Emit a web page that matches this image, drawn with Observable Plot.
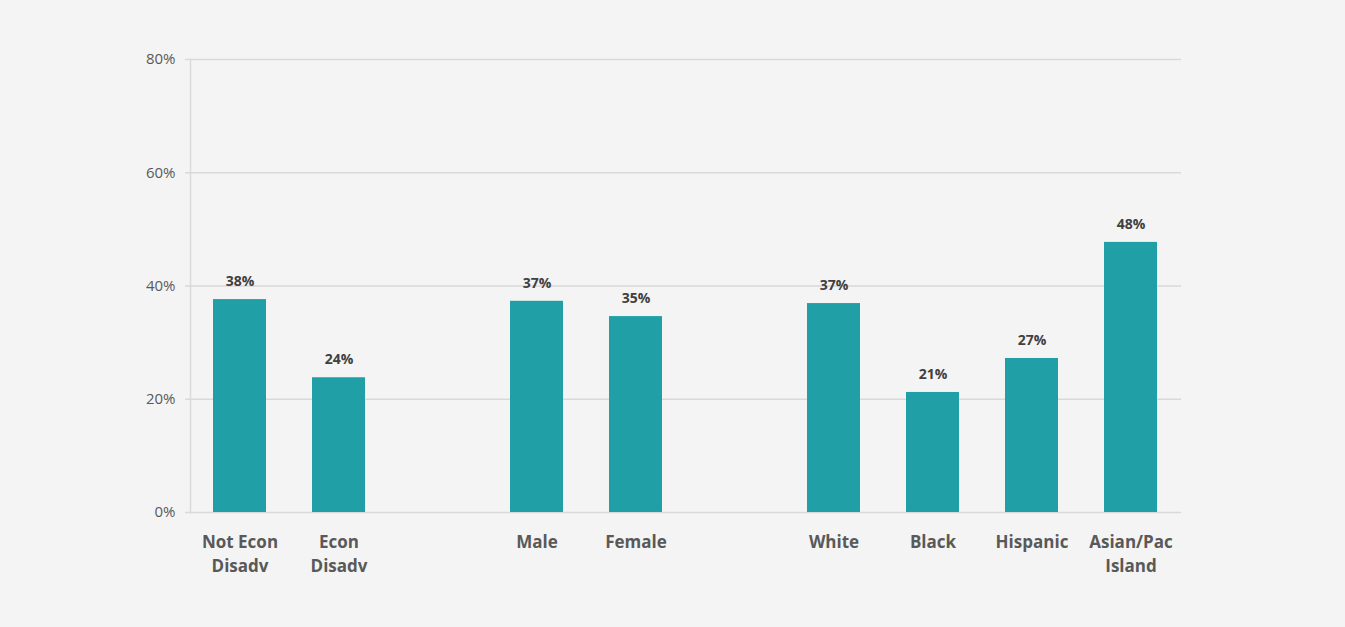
<!DOCTYPE html>
<html>
<head>
<meta charset="utf-8">
<script src="https://cdn.jsdelivr.net/npm/d3@7"></script>
<script src="https://cdn.jsdelivr.net/npm/@observablehq/plot@0.6"></script>
<style>
  html, body { margin: 0; padding: 0; background: #f4f4f4; }
  #chart { width: 1345px; height: 627px; }
  svg { display: block; }
</style>
</head>
<body>
<div id="chart"></div>
<script>
const categories = ["Not Econ\nDisadv", "Econ\nDisadv", "Male", "Female", "White", "Black", "Hispanic", "Asian/Pac\nIsland"];
const groups = ["econ", "econ", "gender", "gender", "race", "race", "race", "race"];
const values = [0.376, 0.238, 0.373, 0.346, 0.369, 0.212, 0.272, 0.477];
const yTicks = [0, 0.2, 0.4, 0.6, 0.8];

const data = categories.map((c, i) => ({category: c, group: groups[i], value: values[i]}));

// Build band domain with blank spacer slots between groups
const domain = [];
let spacer = 0;
data.forEach((d, i) => {
  if (i > 0 && d.group !== data[i - 1].group) domain.push("__gap" + (spacer++));
  domain.push(d.category);
});

const fmt = d3.format(".0%");

const chart = Plot.plot({
  width: 1345,
  height: 627,
  marginLeft: 190,
  marginRight: 164,
  marginTop: 59,
  marginBottom: 115,
  style: {background: "#f4f4f4", fontFamily: "'Open Sans', sans-serif"},
  x: {domain, paddingInner: 0.46, paddingOuter: 0.23, axis: null},
  y: {domain: [0, 0.8], axis: null},
  marks: [
    Plot.gridY(yTicks, {stroke: "#d9d9d9", strokeOpacity: 1, strokeWidth: 1.5}),
    Plot.axisY(yTicks, {
      tickSize: 5, tickPadding: 10, stroke: "#d9d9d9", strokeWidth: 1.5,
      tickFormat: d3.format(".0%"), fontSize: 15, fill: "#595959", label: null
    }),
    Plot.frame({anchor: "left", stroke: "#d9d9d9", strokeWidth: 1.5}),
    Plot.barY(data, {x: "category", y: "value", fill: "#20a0a6"}),
    Plot.text(data, {
      x: "category", y: "value", text: d => fmt(d.value), dy: -18,
      fontSize: 14, fontWeight: "bold", fill: "#404040"
    }),
    Plot.axisX({
      tickSize: 0, tickPadding: 18, fontSize: 17, fontWeight: "bold", fill: "#595959",
      tickFormat: d => d.startsWith("__gap") ? "" : d, lineHeight: 1.42, label: null
    })
  ]
});
document.getElementById("chart").appendChild(chart);
</script>
</body>
</html>
